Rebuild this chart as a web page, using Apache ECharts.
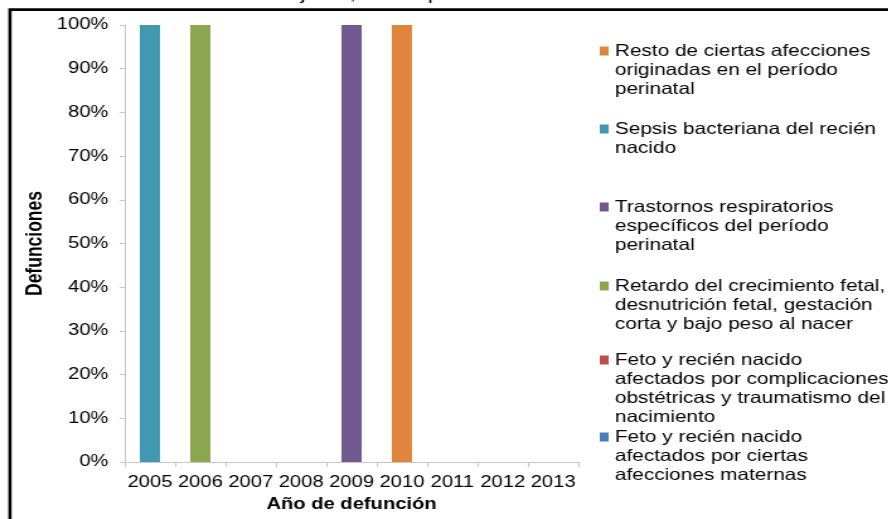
<!DOCTYPE html>
<html>
<head>
<meta charset="utf-8">
<script src="https://cdn.jsdelivr.net/npm/echarts@6/dist/echarts.min.js"></script>
<style>
  html, body { margin: 0; padding: 0; background: #fff; overflow: hidden; width: 888px; height: 519px; }
  /* the chart is laid out on a narrower canvas and widened to the page width */
  #chart { width: 705px; height: 519px; transform: scaleX(1.26); transform-origin: 0 0; }
</style>
</head>
<body>
<div id="chart"></div>
<script>
// Years on the category axis
const years = ['2005', '2006', '2007', '2008', '2009', '2010', '2011', '2012', '2013'];

// Share of deaths (%) per cause group and year
const afeccionesMaternas        = [0, 0, 0, 0, 0, 0, 0, 0, 0];
const complicacionesObstetricas = [0, 0, 0, 0, 0, 0, 0, 0, 0];
const retardoCrecimiento        = [0, 100, 0, 0, 0, 0, 0, 0, 0];
const trastornosRespiratorios   = [0, 0, 0, 0, 100, 0, 0, 0, 0];
const sepsisBacteriana          = [100, 0, 0, 0, 0, 0, 0, 0, 0];
const restoAfecciones           = [0, 0, 0, 0, 0, 100, 0, 0, 0];

// Cause group names, as they are broken into lines in the legend
const causeNames = {
  resto: 'Resto de ciertas afecciones\noriginadas en el período\nperinatal',
  sepsis: 'Sepsis bacteriana del recién\nnacido',
  trastornos: 'Trastornos respiratorios\nespecíficos del período\nperinatal',
  retardo: 'Retardo del crecimiento fetal,\ndesnutrición fetal, gestación\ncorta y bajo peso al nacer',
  complicaciones: 'Feto y recién nacido\nafectados por complicaciones\nobstétricas y traumatismo del\nnacimiento',
  maternas: 'Feto y recién nacido\nafectados por ciertas\nafecciones maternas'
};

const colors = {
  resto: '#E0853B',
  sepsis: '#4298B0',
  trastornos: '#71588F',
  retardo: '#8AA64E',
  complicaciones: '#BE4B48',
  maternas: '#4A7EBB'
};

const chartTitle = 'mujeres, Municipio de Sucre. 2005-2013';

const chart = echarts.init(document.getElementById('chart'), null, { renderer: 'canvas' });

const FONT = '"Liberation Sans", Arial, sans-serif';
const LINE = 19;

const legendText = {
  fontFamily: FONT,
  fontSize: 16.5,
  lineHeight: LINE,
  color: '#000'
};

// each cause gets a legend block: swatch + first line, then the remaining lines below it
const legendOrder = [
  ['resto', 51], ['sepsis', 129], ['trastornos', 207],
  ['retardo', 286], ['complicaciones', 360], ['maternas', 437]
];
const legends = [];
legendOrder.forEach(([key, firstLineY]) => {
  const name = causeNames[key];
  const lines = name.split('\n');
  legends.push({
    data: [name],
    left: 476,
    top: firstLineY - LINE / 2,
    padding: 0,
    itemWidth: 7,
    itemHeight: 9,
    icon: 'rect',
    selectedMode: false,
    formatter: () => lines[0],
    textStyle: legendText
  });
  if (lines.length > 1) {
    legends.push({
      data: [name],
      left: 476,
      top: firstLineY + LINE / 2,
      padding: 0,
      itemWidth: 7,
      itemHeight: 9,
      icon: 'none',
      selectedMode: false,
      formatter: () => lines.slice(1).join('\n'),
      textStyle: legendText
    });
  }
});

function barSeries(key, values) {
  return {
    name: causeNames[key],
    type: 'bar',
    stack: 'total',
    barWidth: '40%',
    itemStyle: { color: colors[key] },
    data: values
  };
}

chart.setOption({
  animation: false,
  backgroundColor: '#fff',
  title: {
    text: chartTitle,
    left: 370,
    textAlign: 'center',
    top: -20,
    textStyle: { fontFamily: FONT, fontSize: 18, fontWeight: 'normal', color: '#000' }
  },
  graphic: [{
    type: 'rect',
    shape: { x: 7.9, y: 9.6, width: 900, height: 600 },
    style: { fill: 'none', stroke: '#000', lineWidth: 2.6 },
    silent: true
  }],
  legend: legends,
  grid: { left: 99, right: 246, top: 25, bottom: 57 },
  xAxis: {
    type: 'category',
    data: years,
    name: 'Año de defunción',
    nameLocation: 'middle',
    nameGap: 35,
    nameTextStyle: { fontFamily: FONT, fontSize: 16, fontWeight: 'bold', color: '#000' },
    axisLine: { lineStyle: { color: '#c6c6c6', width: 1 } },
    axisTick: { show: true, length: 5, lineStyle: { color: '#c6c6c6' } },
    axisLabel: { fontFamily: FONT, fontSize: 16, color: '#000', margin: 13, interval: 0 }
  },
  yAxis: {
    type: 'value',
    min: 0,
    max: 100,
    interval: 10,
    name: 'Defunciones',
    nameLocation: 'middle',
    nameGap: 62,
    nameMoveOverlap: false,
    nameRotate: 90,
    nameTextStyle: { fontFamily: '"Liberation Sans Narrow", "Liberation Sans", Arial, sans-serif', fontSize: 17.5, fontWeight: 'bold', color: '#000' },
    axisLine: { show: true, lineStyle: { color: '#c6c6c6', width: 1 } },
    axisTick: { show: true, length: 4, lineStyle: { color: '#c6c6c6' } },
    splitLine: { show: false },
    axisLabel: { fontFamily: FONT, fontSize: 16, color: '#000', margin: 13, formatter: '{value}%' }
  },
  series: [
    barSeries('maternas', afeccionesMaternas),
    barSeries('complicaciones', complicacionesObstetricas),
    barSeries('retardo', retardoCrecimiento),
    barSeries('trastornos', trastornosRespiratorios),
    barSeries('sepsis', sepsisBacteriana),
    barSeries('resto', restoAfecciones)
  ]
});
</script>
</body>
</html>
